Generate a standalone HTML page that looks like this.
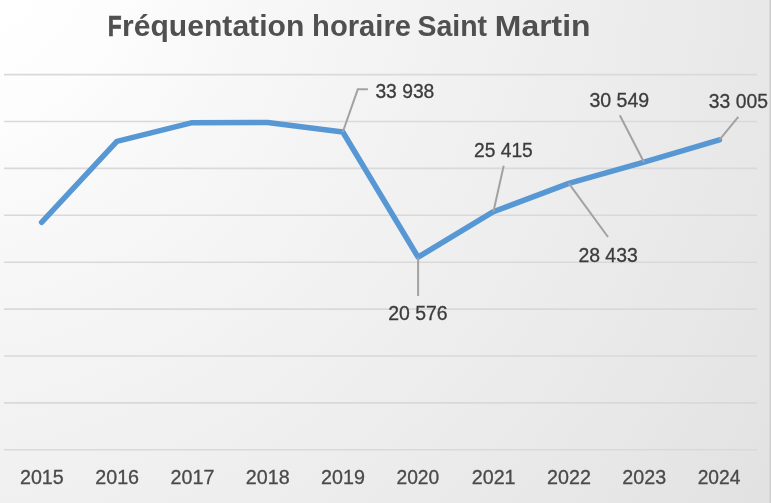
<!DOCTYPE html>
<html lang="fr"><head><meta charset="utf-8"><title>Fréquentation horaire Saint Martin</title>
<style>
html,body{margin:0;padding:0;background:#fff;}
body{width:771px;height:503px;overflow:hidden;}
svg{display:block;font-family:"Liberation Sans",sans-serif;}
</style></head><body>
<svg width="771" height="503" viewBox="0 0 771 503">
<defs>
<radialGradient id="bg" gradientUnits="userSpaceOnUse" cx="-72" cy="-77" r="1100" fx="-72" fy="-77">
<stop offset="0.0000" stop-color="#ffffff"/><stop offset="0.0909" stop-color="#ffffff"/><stop offset="0.1818" stop-color="#fdfdfd"/><stop offset="0.2909" stop-color="#f8f8f8"/><stop offset="0.5273" stop-color="#f0f0f0"/><stop offset="0.7645" stop-color="#e8e8e8"/><stop offset="0.9218" stop-color="#e2e2e2"/><stop offset="1.0000" stop-color="#e0e0e0"/>
</radialGradient>
</defs>
<rect x="0" y="0" width="771" height="503" fill="url(#bg)"/>
<rect x="769" y="0" width="1" height="503" fill="#dadada"/>
<rect x="770" y="0" width="1" height="503" fill="#cdcdcd"/>
<g stroke="#d9d9d9" stroke-width="1.6"><line x1="4" x2="757" y1="449.80" y2="449.80"/><line x1="4" x2="757" y1="402.90" y2="402.90"/><line x1="4" x2="757" y1="356.00" y2="356.00"/><line x1="4" x2="757" y1="309.10" y2="309.10"/><line x1="4" x2="757" y1="262.20" y2="262.20"/><line x1="4" x2="757" y1="215.30" y2="215.30"/><line x1="4" x2="757" y1="168.40" y2="168.40"/><line x1="4" x2="757" y1="121.50" y2="121.50"/><line x1="4" x2="757" y1="74.60" y2="74.60"/></g>
<polyline points="41.6,222.3 116.9,141.4 192.2,122.7 267.6,122.4 342.8,132.0 418.1,257.2 493.4,211.7 568.8,183.4 644.0,162.2 719.4,139.9" fill="none" stroke="#5798d4" stroke-width="5.5" stroke-linejoin="round" stroke-linecap="round"/>
<g fill="none" stroke="#a2a2a2" stroke-width="2"><path d="M342.8,132.0 L357.8,89.3 L367.9,89.3"/><path d="M418.1,257.2 L418.1,296"/><path d="M493.4,211.7 L503.7,165.8"/><path d="M568.8,183.4 L608,237"/><path d="M644.0,162.2 L619.8,115.3"/><path d="M719.4,139.9 L738.3,116.8"/></g>
<text y="35.7" font-size="29.5" font-weight="bold" fill="#505050"><tspan stroke="#505050" stroke-width="0.7" x="107.65" textLength="13.94" lengthAdjust="spacingAndGlyphs">F</tspan><tspan x="122.06" textLength="182.23" lengthAdjust="spacingAndGlyphs">réquentation</tspan> <tspan x="312.12" textLength="98.88" lengthAdjust="spacingAndGlyphs">horaire</tspan> <tspan x="417.44" textLength="69.59" lengthAdjust="spacingAndGlyphs">Saint</tspan> <tspan x="494.84" textLength="95.68" lengthAdjust="spacingAndGlyphs">Martin</tspan></text>
<g font-size="19.5" fill="#3c3c3c" stroke="#3c3c3c" stroke-width="0.3"><text x="375.41" y="98.2" textLength="58.94" lengthAdjust="spacingAndGlyphs">33 938</text><text x="388.2" y="320.3" textLength="59.45" lengthAdjust="spacingAndGlyphs">20 576</text><text x="474.01" y="157" textLength="58.83" lengthAdjust="spacingAndGlyphs">25 415</text><text x="578.41" y="261.6" textLength="59.35" lengthAdjust="spacingAndGlyphs">28 433</text><text x="589.4" y="106.9" textLength="59.86" lengthAdjust="spacingAndGlyphs">30 549</text><text x="708.81" y="107.8" textLength="59.14" lengthAdjust="spacingAndGlyphs">33 005</text></g>
<g font-size="19.5" fill="#4a4a4a" stroke="#4a4a4a" stroke-width="0.3"><text x="19.94" y="484.3" textLength="43.81" lengthAdjust="spacingAndGlyphs">2015</text><text x="95.24" y="484.3" textLength="43.81" lengthAdjust="spacingAndGlyphs">2016</text><text x="170.54" y="484.3" textLength="43.81" lengthAdjust="spacingAndGlyphs">2017</text><text x="245.84" y="484.3" textLength="43.81" lengthAdjust="spacingAndGlyphs">2018</text><text x="321.14" y="484.3" textLength="43.81" lengthAdjust="spacingAndGlyphs">2019</text><text x="396.46" y="484.3" textLength="42.77" lengthAdjust="spacingAndGlyphs">2020</text><text x="471.74" y="484.3" textLength="43.81" lengthAdjust="spacingAndGlyphs">2021</text><text x="547.04" y="484.3" textLength="43.81" lengthAdjust="spacingAndGlyphs">2022</text><text x="622.34" y="484.3" textLength="43.81" lengthAdjust="spacingAndGlyphs">2023</text><text x="697.66" y="484.3" textLength="42.77" lengthAdjust="spacingAndGlyphs">2024</text></g>
</svg>
</body></html>
